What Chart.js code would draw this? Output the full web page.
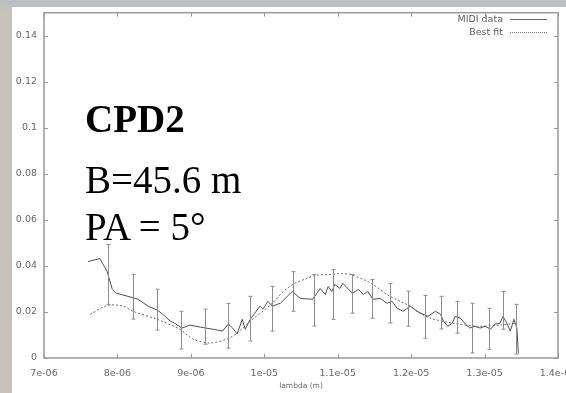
<!DOCTYPE html>
<html>
<head>
<meta charset="utf-8">
<script src="https://cdn.jsdelivr.net/npm/chart.js@4.4.1/dist/chart.umd.min.js"></script>
<style>
  html, body { margin: 0; padding: 0; }
  body {
    width: 566px; height: 393px; position: relative; overflow: hidden;
    background: linear-gradient(180deg, #b9bec4 0px, #c6c1bb 12px, #c8c2bb 100%);
  }
  #panel { position: absolute; left: 12px; top: 7px; width: 554px; height: 386px; background: #fff; }
  #wrap { position: absolute; left: 0; top: 0; width: 566px; height: 393px; }
  .note {
    position: absolute; left: 85px; font-family: "Liberation Serif", "Times New Roman", serif;
    font-size: 39px; line-height: 1; color: #000; white-space: nowrap;
  }
  .key {
    position: absolute; right: 63px; font-family: "DejaVu Sans", sans-serif;
    font-size: 9.5px; line-height: 11px; color: #5c5c5c; white-space: nowrap;
  }
  .sample { position: absolute; left: 510px; width: 37px; height: 0; }
</style>
</head>
<body>
<div id="panel"></div>
<div id="wrap"><canvas id="visCanvas" width="566" height="393"></canvas></div>

<div class="note" style="top:99px; font-weight:bold;">CPD2</div>
<div class="note" style="top:160px;">B=45.6 m</div>
<div class="note" style="top:207px;">PA = 5°</div>

<div class="key" style="top:13px;">MIDI data</div>
<div class="sample" style="top:19px; border-top:1px solid #666;"></div>
<div class="key" style="top:26px;">Best fit</div>
<div class="sample" style="top:32px; border-top:1px dotted #777;"></div>

<script>
// axis ticks
const xTickValues = [7e-6, 8e-6, 9e-6, 1e-5, 1.1e-5, 1.2e-5, 1.3e-5, 1.4e-5];
const xTickLabels = ['7e-06', '8e-06', '9e-06', '1e-05', '1.1e-05', '1.2e-05', '1.3e-05', '1.4e-05'];
const yTickValues = [0, 0.02, 0.04, 0.06, 0.08, 0.1, 0.12, 0.14];
const yTickLabels = ['0', '0.02', '0.04', '0.06', '0.08', '0.1', '0.12', '0.14'];

// measured visibility
const dataLambda = [7.60e-6, 7.76e-6, 7.86e-6, 7.93e-6, 7.99e-6, 8.20e-6, 8.28e-6, 8.42e-6, 8.55e-6, 8.65e-6,
  8.72e-6, 8.78e-6, 8.88e-6, 8.99e-6, 9.13e-6, 9.30e-6, 9.43e-6, 9.51e-6, 9.57e-6, 9.63e-6,
  9.70e-6, 9.74e-6, 9.81e-6, 9.87e-6, 9.94e-6, 9.98e-6, 1.005e-5, 1.011e-5, 1.022e-5, 1.038e-5,
  1.049e-5, 1.066e-5, 1.076e-5, 1.083e-5, 1.087e-5, 1.092e-5, 1.096e-5, 1.103e-5, 1.107e-5, 1.120e-5,
  1.128e-5, 1.135e-5, 1.141e-5, 1.148e-5, 1.158e-5, 1.167e-5, 1.174e-5, 1.181e-5, 1.189e-5, 1.199e-5,
  1.208e-5, 1.216e-5, 1.223e-5, 1.233e-5, 1.240e-5, 1.244e-5, 1.250e-5, 1.256e-5, 1.260e-5, 1.267e-5,
  1.274e-5, 1.280e-5, 1.287e-5, 1.294e-5, 1.301e-5, 1.308e-5, 1.314e-5, 1.321e-5, 1.325e-5, 1.331e-5,
  1.335e-5, 1.340e-5, 1.344e-5, 1.346e-5];
const dataVis = [0.0419, 0.0432, 0.0376, 0.0298, 0.0281, 0.0263, 0.0255, 0.0225, 0.0207, 0.0181,
  0.0160, 0.0151, 0.0130, 0.0143, 0.0134, 0.0125, 0.0117, 0.0147, 0.0130, 0.0104,
  0.0168, 0.0125, 0.0168, 0.0194, 0.0225, 0.0212, 0.0246, 0.0225, 0.0238, 0.0289,
  0.0259, 0.0255, 0.0302, 0.0276, 0.0311, 0.0289, 0.0320, 0.0302, 0.0324, 0.0281,
  0.0298, 0.0276, 0.0289, 0.0255, 0.0259, 0.0238, 0.0246, 0.0216, 0.0203, 0.0225,
  0.0203, 0.0190, 0.0181, 0.0203, 0.0190, 0.0160, 0.0138, 0.0151, 0.0181, 0.0173,
  0.0147, 0.0130, 0.0138, 0.0130, 0.0138, 0.0125, 0.0147, 0.0151, 0.0181, 0.0147,
  0.0117, 0.0168, 0.0130, 0.0020];

// error bars on a subset of the measurements
const errLambda = [7.87e-6, 8.21e-6, 8.54e-6, 8.87e-6, 9.19e-6, 9.51e-6, 9.81e-6, 1.011e-5, 1.039e-5, 1.068e-5,
  1.094e-5, 1.120e-5, 1.147e-5, 1.171e-5, 1.196e-5, 1.219e-5, 1.241e-5, 1.263e-5, 1.283e-5, 1.306e-5,
  1.325e-5, 1.343e-5];
const errVis = [0.0363, 0.0266, 0.0210, 0.0121, 0.0136, 0.0140, 0.0171, 0.0214, 0.0289, 0.0251,
  0.0276, 0.0279, 0.0257, 0.0238, 0.0214, 0.0179, 0.0197, 0.0177, 0.0130, 0.0127,
  0.0207, 0.0125];
const errSize = [0.0130, 0.0097, 0.0089, 0.0082, 0.0076, 0.0097, 0.0097, 0.0097, 0.0086, 0.0112,
  0.0108, 0.0084, 0.0084, 0.0086, 0.0076, 0.0093, 0.0071, 0.0069, 0.0108, 0.0089,
  0.0082, 0.0108];

// model curve
const fitLambda = [7.63e-6, 7.87e-6, 8.08e-6, 8.21e-6, 8.54e-6, 8.85e-6, 9.03e-6, 9.26e-6, 9.49e-6, 9.63e-6,
  9.81e-6, 1.011e-5, 1.026e-5, 1.039e-5, 1.058e-5, 1.069e-5, 1.090e-5, 1.103e-5, 1.117e-5, 1.135e-5,
  1.148e-5, 1.167e-5, 1.185e-5, 1.199e-5, 1.212e-5, 1.226e-5, 1.257e-5, 1.290e-5, 1.321e-5, 1.343e-5];
const fitVis = [0.0190, 0.0229, 0.0225, 0.0203, 0.0168, 0.0125, 0.0082, 0.0065, 0.0082, 0.0108,
  0.0160, 0.0238, 0.0289, 0.0320, 0.0346, 0.0359, 0.0363, 0.0367, 0.0363, 0.0341,
  0.0320, 0.0276, 0.0246, 0.0225, 0.0194, 0.0173, 0.0151, 0.0138, 0.0143, 0.0151];

const toPoints = (xs, ys) => xs.map((x, i) => ({ x: x, y: ys[i] }));

// gnuplot-like frame with inward ticks on all four sides, plus the error bars
const framePlugin = {
  id: 'frame',
  afterDatasetsDraw(chart) {
    const { ctx, chartArea: a, scales: { x, y } } = chart;
    ctx.save();

    ctx.strokeStyle = '#8c8c8c';
    ctx.lineWidth = 1;
    for (let i = 0; i < errLambda.length; i++) {
      const px = Math.round(x.getPixelForValue(errLambda[i])) + 0.5;
      const top = y.getPixelForValue(errVis[i] + errSize[i]);
      const bot = y.getPixelForValue(errVis[i] - errSize[i]);
      ctx.beginPath();
      ctx.moveTo(px, top); ctx.lineTo(px, bot);
      ctx.moveTo(px - 2, top); ctx.lineTo(px + 2, top);
      ctx.moveTo(px - 2, bot); ctx.lineTo(px + 2, bot);
      ctx.stroke();
    }

    ctx.strokeStyle = '#999';
    ctx.lineWidth = 1.5;
    ctx.strokeRect(a.left, a.top, a.right - a.left, a.bottom - a.top);

    ctx.lineWidth = 1;
    ctx.beginPath();
    xTickValues.forEach(v => {
      const px = Math.round(x.getPixelForValue(v)) + 0.5;
      ctx.moveTo(px, a.bottom); ctx.lineTo(px, a.bottom - 4);
      ctx.moveTo(px, a.top); ctx.lineTo(px, a.top + 4);
    });
    yTickValues.forEach(v => {
      const py = Math.round(y.getPixelForValue(v)) + 0.5;
      ctx.moveTo(a.left, py); ctx.lineTo(a.left + 4, py);
      ctx.moveTo(a.right, py); ctx.lineTo(a.right - 4, py);
    });
    ctx.stroke();
    ctx.restore();
  }
};

const tickFont = { family: '"DejaVu Sans", sans-serif', size: 9.5 };

new Chart(document.getElementById('visCanvas'), {
  type: 'line',
  data: {
    datasets: [{
      label: 'MIDI data',
      data: toPoints(dataLambda, dataVis),
      borderColor: '#505050',
      borderWidth: 1,
      pointRadius: 0,
      tension: 0
    }, {
      label: 'Best fit',
      data: toPoints(fitLambda, fitVis),
      borderColor: '#6a6a6a',
      borderWidth: 1,
      borderDash: [2, 2],
      pointRadius: 0,
      tension: 0.3
    }]
  },
  options: {
    responsive: false,
    animation: false,
    layout: { padding: { left: 0, top: 10, right: 8, bottom: 0 } },
    plugins: {
      legend: { display: false },
      tooltip: { enabled: false }
    },
    scales: {
      x: {
        type: 'linear',
        min: 7e-6,
        max: 1.4e-5,
        grid: { display: false, drawTicks: false, tickLength: 0 },
        border: { display: false },
        afterBuildTicks: (scale) => { scale.ticks = xTickValues.map(v => ({ value: v })); },
        afterFit: (scale) => {
          scale.height = 35;
          // let the last label run off the edge instead of shrinking the plot
          scale.paddingLeft = 0;
          scale.paddingRight = 0;
        },
        ticks: {
          autoSkip: false,
          maxRotation: 0,
          padding: 10,
          color: '#666',
          font: tickFont,
          callback: (value, index) => xTickLabels[index]
        },
        title: {
          display: true,
          text: 'lambda (m)',
          color: '#666',
          font: { family: '"DejaVu Sans", sans-serif', size: 7.5 },
          padding: { top: 0, bottom: 2 }
        }
      },
      y: {
        min: 0,
        max: 0.15,
        grid: { display: false, drawTicks: false, tickLength: 0 },
        border: { display: false },
        afterBuildTicks: (scale) => { scale.ticks = yTickValues.map(v => ({ value: v })); },
        afterFit: (scale) => { scale.width = 44; },
        ticks: {
          autoSkip: false,
          padding: 7,
          color: '#666',
          font: tickFont,
          callback: (value, index) => yTickLabels[index]
        }
      }
    }
  },
  plugins: [framePlugin]
});
</script>
</body>
</html>
